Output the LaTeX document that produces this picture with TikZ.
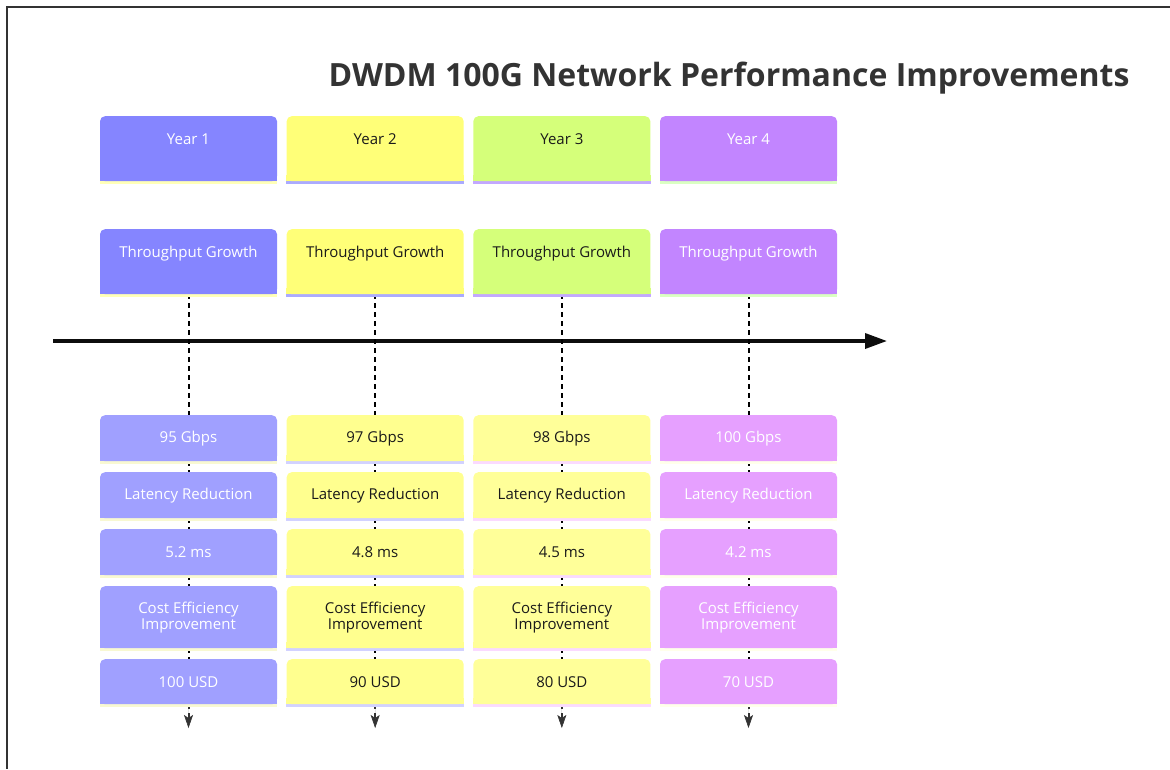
\documentclass[tikz,border=0pt]{standalone}
\usepackage{fontspec}
\setmainfont{Open Sans}
\usetikzlibrary{arrows.meta}

% section colours: header fill, header stripe, event fill, event stripe, text
\definecolor{hd1}{HTML}{8585FF}\definecolor{hs1}{HTML}{FFFFB8}
\definecolor{ev1}{HTML}{A0A0FF}\definecolor{es1}{HTML}{F8F8D2}
\definecolor{hd2}{HTML}{FFFF78}\definecolor{hs2}{HTML}{ABABFF}
\definecolor{ev2}{HTML}{FFFF8F}\definecolor{es2}{HTML}{D2D2FF}
\definecolor{hd3}{HTML}{D5FF7A}\definecolor{hs3}{HTML}{C2A8FF}
\definecolor{ev3}{HTML}{FFFF99}\definecolor{es3}{HTML}{FADAFF}
\definecolor{hd4}{HTML}{C285FF}\definecolor{hs4}{HTML}{DAFFC2}
\definecolor{ev4}{HTML}{E6A0FF}\definecolor{es4}{HTML}{FFFFEA}
\definecolor{tx1}{HTML}{FFFFFF}\definecolor{tx2}{HTML}{1A1A1A}
\definecolor{tx3}{HTML}{1A1A1A}\definecolor{tx4}{HTML}{FFFFFF}
\definecolor{ink}{HTML}{333333}

\pgfdeclarelayer{back}
\pgfsetlayers{back,main}

\tikzset{
  card/.style n args={3}{rectangle, rounded corners=5pt, fill=#1, text=#3,
    minimum width=177pt, inner sep=0pt, align=center,
    font=\fontsize{15}{16}\selectfont,
    append after command={\pgfextra{
      \fill[#1] ([yshift=6pt]\tikzlastnode.south west) rectangle (\tikzlastnode.south east);
      \fill[#2] (\tikzlastnode.south west) rectangle ([yshift=-3pt]\tikzlastnode.south east);}}},
  head/.style={text height=28pt, text depth=37pt},
  item/.style={minimum height=#1},
  item/.default=46pt,
  link/.style={draw=black, line width=2pt, dash pattern=on 5pt off 4pt},
  tip/.style={-{Stealth[length=13pt,width=9pt,inset=3pt,line width=0.6pt]}},
  axis/.style={draw=black!95, line width=3.5pt, -{Triangle[length=22pt,width=15pt]}},
  title/.style={font=\fontsize{32}{38}\selectfont\bfseries, text=ink},
}

\begin{document}
\begin{tikzpicture}[x=1pt,y=-1pt]
  \useasboundingbox (0,0) rectangle (1170,769);
  \draw[ink, line width=1.5pt] (1170,7) -- (7,7) -- (7,769);

  \node[title] (title) at (729,78) {DWDM 100G Network Performance Improvements};

  % time axis
  \coordinate (ax0) at (53,341);
  \coordinate (ax1) at (887,341);
  \begin{pgfonlayer}{back}
    \draw[axis] (ax0) -- (ax1);
  \end{pgfonlayer}

  \foreach \i/\yr/\gb/\ms/\us in {1/Year 1/95 Gbps/5.2 ms/100 USD,
                                  2/Year 2/97 Gbps/4.8 ms/90 USD,
                                  3/Year 3/98 Gbps/4.5 ms/80 USD,
                                  4/Year 4/100 Gbps/4.2 ms/70 USD}{
    \pgfmathsetmacro{\x}{188.5+186.67*(\i-1)}
    \node[card={hd\i}{hs\i}{tx\i}, head, anchor=north] (yr\i) at (\x,116) {\yr};
    \node[card={hd\i}{hs\i}{tx\i}, head, anchor=north] (tg\i) at (\x,229) {Throughput Growth};
    \node[card={ev\i}{es\i}{tx\i}, item, anchor=north] (gb\i) at (\x,415) {\gb};
    \node[card={ev\i}{es\i}{tx\i}, item, anchor=north] (lr\i) at (\x,472) {Latency Reduction};
    \node[card={ev\i}{es\i}{tx\i}, item, anchor=north] (ms\i) at (\x,529) {\ms};
    \node[card={ev\i}{es\i}{tx\i}, item=62pt, anchor=north] (ce\i) at (\x,586) {Cost Efficiency\\Improvement};
    \node[card={ev\i}{es\i}{tx\i}, item=45pt, anchor=north] (us\i) at (\x,659) {\us};
    \coordinate (end\i) at (\x,728);
    \begin{pgfonlayer}{back}
      \draw[link] (tg\i) -- (gb\i) -- (lr\i) -- (ms\i) -- (ce\i) -- (us\i);
      \draw[link, draw=ink, fill=ink, tip] (us\i) -- (end\i);
    \end{pgfonlayer}
  }
\end{tikzpicture}
\end{document}
